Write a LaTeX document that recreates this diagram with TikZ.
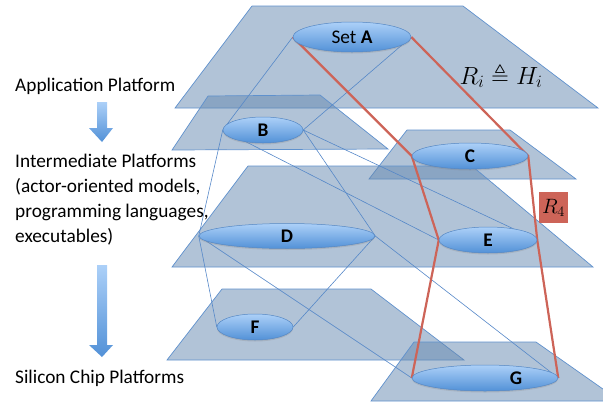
\documentclass[tikz,border=0pt]{standalone}
\usepackage{amssymb}
\usepackage{fontspec}
\setmainfont{Carlito}
\usetikzlibrary{shapes.geometric,shadows}

\definecolor{planefill}{RGB}{100,135,175}
\definecolor{planeline}{RGB}{95,145,205}
\definecolor{setlight}{RGB}{172,208,248}
\definecolor{setdark}{RGB}{82,145,215}
\definecolor{setline}{RGB}{85,135,195}
\definecolor{linkblue}{RGB}{85,135,200}
\definecolor{refine}{RGB}{205,100,88}

\pgfdeclarelayer{planes}
\pgfdeclarelayer{links}
\pgfsetlayers{planes,links,main}

\begin{document}
\begin{tikzpicture}[x=1pt,y=-1pt,
  plane/.style={fill=planefill,fill opacity=0.5,draw=planeline,line width=0.7pt},
  set/.style={ellipse,draw=setline,line width=0.5pt,top color=setlight,bottom color=setdark,
    inner sep=0pt,font=\fontsize{19.3}{21}\selectfont\bfseries,
    drop shadow={opacity=0.25,shadow xshift=0pt,shadow yshift=-1.5pt}},
  link/.style={draw=linkblue,line width=0.6pt},
  refines/.style={draw=refine,line width=2.2pt},
  level/.style={font=\fontsize{19.3}{25}\selectfont,inner sep=0pt,align=left},
  down/.style={top color=setlight,bottom color=setdark,draw=none}]
\clip (0,0) rectangle (603,405);

% platform levels
\node[level,anchor=base west] (app) at (15,91) {Application Platform};
\node[level,anchor=north west] (mid) at (15,154) {Intermediate Platforms\\(actor-oriented models,\\programming languages,\\executables)};
\node[level,anchor=base west] (chip) at (15,383) {Silicon Chip Platforms};

% block arrows between levels
\shade[down] (97,102) -- (107,102) -- (107,128) -- (113,128) -- (102,142) -- (89,128) -- (97,128) -- cycle;
\shade[down] (97,265) -- (107,265) -- (107,345) -- (113,345) -- (102,357) -- (89,345) -- (97,345) -- cycle;

% sets
\node[set,minimum width=118,minimum height=30] (A) at (352,37) {{\mdseries Set} A};
\node[set,minimum width=80,minimum height=26] (B) at (263,130) {B};
\node[set,minimum width=116,minimum height=26] (C) at (470,156) {C};
\node[set,minimum width=176,minimum height=25] (D) at (287,236) {D};
\node[set,minimum width=98,minimum height=26] (E) at (488,240) {E};
\node[set,minimum width=76,minimum height=26] (F) at (255,327) {F};
\node[set,minimum width=146,minimum height=26] (G) at (485,378) {\hspace*{62pt}G};

\node[anchor=base,inner sep=0pt,font=\fontsize{23}{25}\selectfont] (rel) at (501,84) {$R_i \triangleq H_i$};
\node[fill=refine,minimum width=29,minimum height=31,inner sep=0pt,font=\fontsize{21}{23}\selectfont] (r4) at (553.5,207.5) {$R_4$};

\begin{pgfonlayer}{planes}
\path[plane] (252,6) -- (463,6) -- (598,108) -- (175,108) -- cycle;
\path[plane] (208,96) -- (320,95) -- (388,149) -- (172,150) -- cycle;
\path[plane] (407,130) -- (510,130) -- (576,179) -- (369,179) -- cycle;
\path[plane] (248,166) -- (472,166) -- (593,267) -- (172,267) -- cycle;
\path[plane] (222,289) -- (371,289) -- (464,360) -- (167,360) -- cycle;
\path[plane] (414,342) -- (536,342) -- (620,401) -- (371,401) -- cycle;
\end{pgfonlayer}

\begin{pgfonlayer}{links}
\draw[link] (A.west) -- (B.west);
\draw[link] (A.east) -- (B.east);
\draw[link] (B.west) -- (D.west);
\draw[link] (B.east) -- (D.east);
\draw[link] (B.west) -- (E.west);
\draw[link] (B.east) -- (E.east);
\draw[link] (D.west) -- (F.west);
\draw[link] (D.east) -- (F.east);
\draw[link] (D.west) -- (G.west);
\draw[link] (D.east) -- (G.east);
\draw[refines] (A.west) -- (C.west) -- (E.west) -- (G.west);
\draw[refines] (A.east) -- (C.east) -- (E.east) -- (G.east);
\end{pgfonlayer}
\end{tikzpicture}
\end{document}
